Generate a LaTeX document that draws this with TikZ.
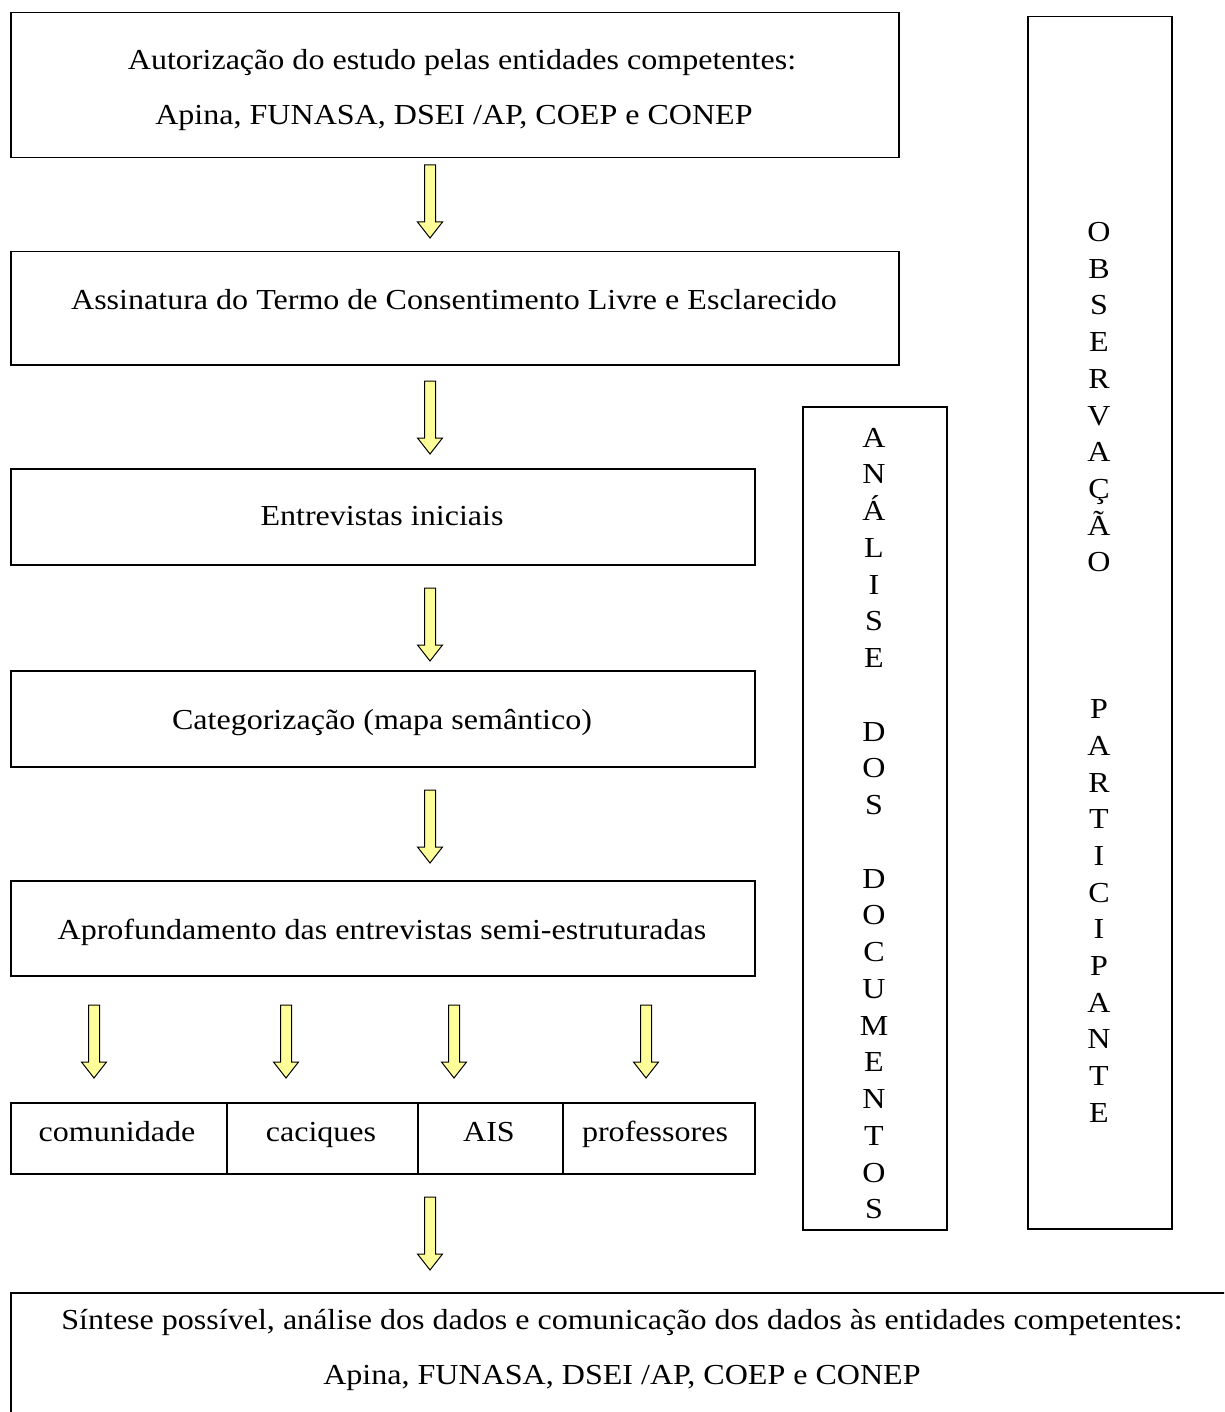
\documentclass[tikz,border=0pt]{standalone}
\usepackage{fontspec}
\setmainfont[FakeStretch=1.105]{Liberation Serif}
\usetikzlibrary{calc}
\definecolor{arrowfill}{HTML}{FFFF99}
\tikzset{
  box/.style={draw=black, line width=1.5pt, inner sep=0pt, anchor=north west},
  txt/.style={inner sep=0pt, anchor=base, font=\fontsize{29}{35}\selectfont},
  barrowstyle/.style={draw=black, line width=1pt, fill=arrowfill, line join=miter}
}
\newcommand{\barrow}[2]{%
  \draw[barrowstyle] let \p1=(#1), \p2=(#2) in
    (\x1-5.5pt,\y1) -- (\x1+5.5pt,\y1) -- (\x1+5.5pt,\y2+16pt) -- (\x1+12.5pt,\y2+16pt)
    -- (\x2,\y2) -- (\x1-12.5pt,\y2+16pt) -- (\x1-5.5pt,\y2+16pt) -- cycle;}
\begin{document}
\begin{tikzpicture}[x=1pt,y=-1pt]
\useasboundingbox (0,0) rectangle (1224,1412);
\clip (0,0) rectangle (1224,1412);
% main boxes
\node[box, minimum width=888pt, minimum height=145pt] (b1) at (10,12) {};
\node[txt] (t1a) at (462,70) {Autorização do estudo pelas entidades competentes:};
\node[txt] (t1b) at (454,125) {Apina, FUNASA, DSEI /AP, COEP e CONEP};
\node[box, minimum width=888pt, minimum height=113pt] (b2) at (10,251) {};
\node[txt] (t2) at (454,309) {Assinatura do Termo de Consentimento Livre e Esclarecido};
\node[box, minimum width=744pt, minimum height=96pt] (b3) at (10,468) {};
\node[txt] (t3) at (382,525) {Entrevistas iniciais};
\node[box, minimum width=744pt, minimum height=96pt] (b4) at (10,670) {};
\node[txt] (t4) at (382,729) {Categorização (mapa semântico)};
\node[box, minimum width=744pt, minimum height=95pt] (b5) at (10,880) {};
\node[txt] (t5) at (382,939) {Aprofundamento das entrevistas semi-estruturadas};
% row
\node[box, minimum width=216pt, minimum height=71pt] (r1) at (10,1102) {};
\node[box, minimum width=191pt, minimum height=71pt] (r2) at (226,1102) {};
\node[box, minimum width=145pt, minimum height=71pt] (r3) at (417,1102) {};
\node[box, minimum width=192pt, minimum height=71pt] (r4) at (562,1102) {};
\node[txt] (c1) at (117,1141) {comunidade};
\node[txt] (c2) at (321,1141) {caciques};
\node[txt] (c3) at (489,1141) {AIS};
\node[txt] (c4) at (655,1141) {professores};
% final box
\node[box, minimum width=1230pt, minimum height=140pt] (b6) at (10,1292) {};
\node[txt] (t6a) at (622,1329) {Síntese possível, análise dos dados e comunicação dos dados às entidades competentes:};
\node[txt] (t6b) at (622,1384) {Apina, FUNASA, DSEI /AP, COEP e CONEP};
% side boxes
\node[box, minimum width=144pt, minimum height=823pt] (ad) at (802,406) {};
\foreach \l [count=\i] in {A,N,Á,L,I,S,E,{},D,O,S,{},D,O,C,U,M,E,N,T,O,S}
  \node[txt] (ad\i) at (874,{447+(\i-1)*36.76}) {\l};
\node[box, minimum width=144pt, minimum height=1212pt] (op) at (1027,16) {};
\foreach \l [count=\i] in {O,B,S,E,R,V,A,Ç,Ã,O,{},{},{},P,A,R,T,I,C,I,P,A,N,T,E}
  \node[txt] (op\i) at (1099,{241.5+(\i-1)*36.7}) {\l};
% arrows
\coordinate (a1s) at (430,165); \coordinate (a1e) at (430,238);
\coordinate (a2s) at (430,381); \coordinate (a2e) at (430,454);
\coordinate (a3s) at (430,588); \coordinate (a3e) at (430,661);
\coordinate (a4s) at (430,790); \coordinate (a4e) at (430,863);
\coordinate (a5s) at (94,1005); \coordinate (a5e) at (94,1078);
\coordinate (a6s) at (286,1005); \coordinate (a6e) at (286,1078);
\coordinate (a7s) at (454,1005); \coordinate (a7e) at (454,1078);
\coordinate (a8s) at (646,1005); \coordinate (a8e) at (646,1078);
\coordinate (a9s) at (430,1197); \coordinate (a9e) at (430,1270);
\foreach \k in {1,...,9} { \barrow{a\k s}{a\k e} }
\end{tikzpicture}
\end{document}
